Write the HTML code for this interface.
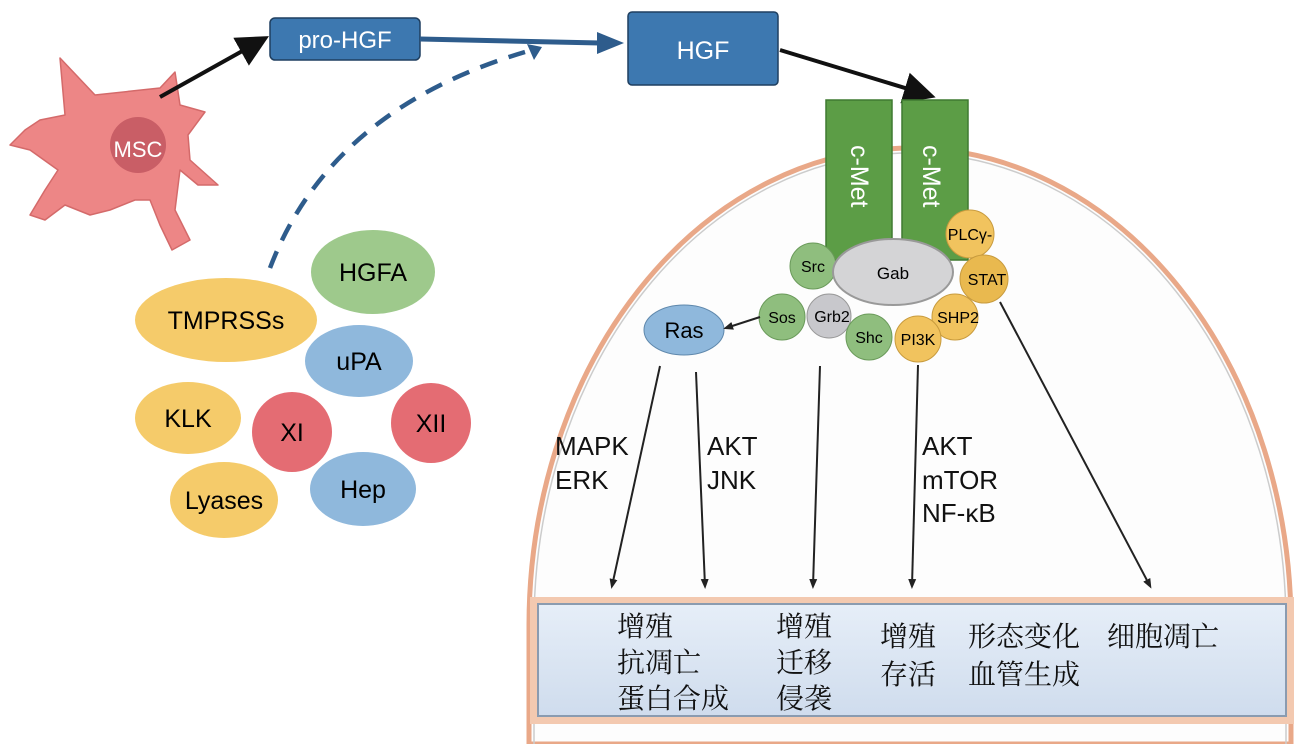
<!DOCTYPE html>
<html><head><meta charset="utf-8"><style>
html,body{margin:0;padding:0;background:#fff;overflow:hidden;width:1299px;height:744px;}
svg{display:block;font-family:"Liberation Sans",Arial,sans-serif;overflow:hidden;}
.cn{font-family:"Liberation Serif","Noto Serif CJK SC",serif;font-size:28px;fill:#111;}
</style></head><body>
<svg width="1299" height="744" viewBox="0 0 1299 744" xmlns="http://www.w3.org/2000/svg">
<defs>
<clipPath id="cp"><rect x="0" y="0" width="1299" height="744"/></clipPath>
<marker id="ab" markerWidth="8" markerHeight="8" refX="6" refY="4" orient="auto" markerUnits="strokeWidth"><path d="M0,0 L8,4 L0,8 Z" fill="#111"/></marker>
<marker id="as" markerWidth="10" markerHeight="10" refX="7" refY="5" orient="auto" markerUnits="userSpaceOnUse"><path d="M0,1 L10,5 L0,9 Z" fill="#222"/></marker>
<linearGradient id="bx" x1="0" y1="0" x2="0" y2="1"><stop offset="0" stop-color="#e6eef8"/><stop offset="1" stop-color="#cfdced"/></linearGradient>
</defs>
<!-- cell -->
<path clip-path="url(#cp)" d="M529,744 L529,625 A381,477 0 0 1 1291,625 L1291,744 Z" fill="#fdfdfd" stroke="#e9a888" stroke-width="5"/>
<path d="M534,744 L534,625 A376,472 0 0 1 1286,625 L1286,744" fill="none" stroke="#ccc" stroke-width="1.5"/>
<!-- bottom box -->
<rect x="530" y="597" width="764" height="127" fill="#f3c9b0"/>
<rect x="538" y="604" width="748" height="112" fill="url(#bx)" stroke="#8a9bb0" stroke-width="2"/>
<!-- MSC star -->
<path d="M60,58 L95,95 L160,88 L175,72 L180,105 L205,112 L188,135 L190,160 L218,185 L198,185 L180,170 L175,210 L190,240 L172,250 L160,225 L150,200 L135,200 L110,210 L90,215 L65,205 L45,220 L30,215 L45,190 L58,170 L30,150 L10,145 L25,130 L40,120 L65,115 Z" fill="#ed8686" stroke="#d46a6a" stroke-width="1.5" stroke-linejoin="round"/>
<circle cx="138" cy="145" r="28" fill="#c95e66"/>
<text x="138" y="157" font-size="22" fill="#fff" text-anchor="middle">MSC</text>
<!-- pro-HGF -->
<line x1="160" y1="97" x2="262" y2="40" stroke="#111" stroke-width="4" marker-end="url(#ab)"/>
<rect x="270" y="18" width="150" height="42" rx="5" fill="#3d78b0" stroke="#1f3f60" stroke-width="1.5"/>
<text x="345" y="48" font-size="24" fill="#fff" text-anchor="middle">pro-HGF</text>
<line x1="420" y1="39" x2="600" y2="43" stroke="#2e5c8c" stroke-width="5"/>
<path d="M597,32 L624,43 L597,54 Z" fill="#2e5c8c"/>
<rect x="628" y="12" width="150" height="73" rx="4" fill="#3d78b0" stroke="#1f3f60" stroke-width="1.5"/>
<text x="703" y="59" font-size="25" fill="#fff" text-anchor="middle">HGF</text>
<line x1="780" y1="50" x2="928" y2="95" stroke="#111" stroke-width="4" marker-end="url(#ab)"/>
<!-- dashed -->
<path d="M270,268 Q330,110 525,52" fill="none" stroke="#2e5c8c" stroke-width="4.5" stroke-dasharray="18,12"/>
<path d="M527,44 L542,47 L534,60 Z" fill="#2e5c8c"/>
<!-- proteases -->
<ellipse cx="226" cy="320" rx="91" ry="42" fill="#f5cb6a"/><text x="226" y="329" font-size="25" text-anchor="middle">TMPRSSs</text>
<ellipse cx="373" cy="272" rx="62" ry="42" fill="#9ec98c"/><text x="373" y="281" font-size="25" text-anchor="middle">HGFA</text>
<ellipse cx="359" cy="361" rx="54" ry="36" fill="#8fb8dc"/><text x="359" y="370" font-size="25" text-anchor="middle">uPA</text>
<ellipse cx="188" cy="418" rx="53" ry="36" fill="#f5cb6a"/><text x="188" y="427" font-size="25" text-anchor="middle">KLK</text>
<circle cx="292" cy="432" r="40" fill="#e46c73"/><text x="292" y="441" font-size="25" text-anchor="middle">XI</text>
<circle cx="431" cy="423" r="40" fill="#e46c73"/><text x="431" y="432" font-size="25" text-anchor="middle">XII</text>
<ellipse cx="363" cy="489" rx="53" ry="37" fill="#8fb8dc"/><text x="363" y="498" font-size="25" text-anchor="middle">Hep</text>
<ellipse cx="224" cy="500" rx="54" ry="38" fill="#f5cb6a"/><text x="224" y="509" font-size="25" text-anchor="middle">Lyases</text>
<!-- c-Met -->
<rect x="826" y="100" width="66" height="160" fill="#5c9d46" stroke="#3f7a30" stroke-width="1.5"/>
<rect x="902" y="100" width="66" height="160" fill="#5c9d46" stroke="#3f7a30" stroke-width="1.5"/>
<text transform="translate(851,145) rotate(90)" font-size="25" fill="#fff" text-anchor="start">c-Met</text>
<text transform="translate(923,145) rotate(90)" font-size="25" fill="#fff" text-anchor="start">c-Met</text>
<!-- complex -->
<circle cx="813" cy="266" r="23" fill="#8fbe7e" stroke="#6a9a5a"/><text x="813" y="272" font-size="16" text-anchor="middle">Src</text>
<circle cx="970" cy="234" r="24" fill="#f1c35e" stroke="#c89b3e"/><text x="970" y="240" font-size="16" text-anchor="middle">PLCγ-</text>
<circle cx="984" cy="279" r="24" fill="#e9b94f" stroke="#c89b3e"/><text x="987" y="285" font-size="16" text-anchor="middle">STAT</text>
<circle cx="955" cy="317" r="23" fill="#f1c35e" stroke="#c89b3e"/><text x="958" y="323" font-size="16" text-anchor="middle">SHP2</text>
<ellipse cx="893" cy="272" rx="60" ry="33" fill="#d4d4d6" stroke="#999" stroke-width="2"/><text x="893" y="279" font-size="17" text-anchor="middle">Gab</text>
<circle cx="782" cy="317" r="23" fill="#8fbe7e" stroke="#6a9a5a"/>
<circle cx="829" cy="316" r="22" fill="#c8c8cc" stroke="#999"/>
<text x="782" y="323" font-size="16" text-anchor="middle">Sos</text><text x="832" y="322" font-size="16" text-anchor="middle">Grb2</text>
<circle cx="869" cy="337" r="23" fill="#8fbe7e" stroke="#6a9a5a"/><text x="869" y="343" font-size="16" text-anchor="middle">Shc</text>
<circle cx="918" cy="339" r="23" fill="#f1c35e" stroke="#c89b3e"/><text x="918" y="345" font-size="16" text-anchor="middle">PI3K</text>
<ellipse cx="684" cy="330" rx="40" ry="25" fill="#8fb8dc" stroke="#5f88ac"/><text x="684" y="338" font-size="22" text-anchor="middle">Ras</text>
<!-- arrows -->
<g stroke="#222" stroke-width="2" fill="none">
<line x1="760" y1="317" x2="726" y2="328" marker-end="url(#as)"/>
<line x1="660" y1="366" x2="612" y2="586" marker-end="url(#as)"/>
<line x1="696" y1="372" x2="705" y2="586" marker-end="url(#as)"/>
<line x1="820" y1="366" x2="813" y2="586" marker-end="url(#as)"/>
<line x1="918" y1="365" x2="912" y2="586" marker-end="url(#as)"/>
<line x1="1000" y1="302" x2="1150" y2="586" marker-end="url(#as)"/>
</g>
<g font-size="26" fill="#111">
<text x="555" y="455">MAPK</text><text x="555" y="489">ERK</text>
<text x="707" y="455">AKT</text><text x="707" y="489">JNK</text>
<text x="922" y="455">AKT</text><text x="922" y="489">mTOR</text><text x="922" y="522">NF-κB</text>
</g>
<text class="cn" x="617" y="636">增殖</text><text class="cn" x="617" y="672">抗凋亡</text><text class="cn" x="617" y="708">蛋白合成</text>
<text class="cn" x="776" y="636">增殖</text><text class="cn" x="776" y="672">迁移</text><text class="cn" x="776" y="708">侵袭</text>
<text class="cn" x="880" y="646">增殖</text><text class="cn" x="880" y="684">存活</text>
<text class="cn" x="968" y="646">形态变化</text><text class="cn" x="968" y="684">血管生成</text>
<text class="cn" x="1107" y="646">细胞凋亡</text>
</svg>
</body></html>
